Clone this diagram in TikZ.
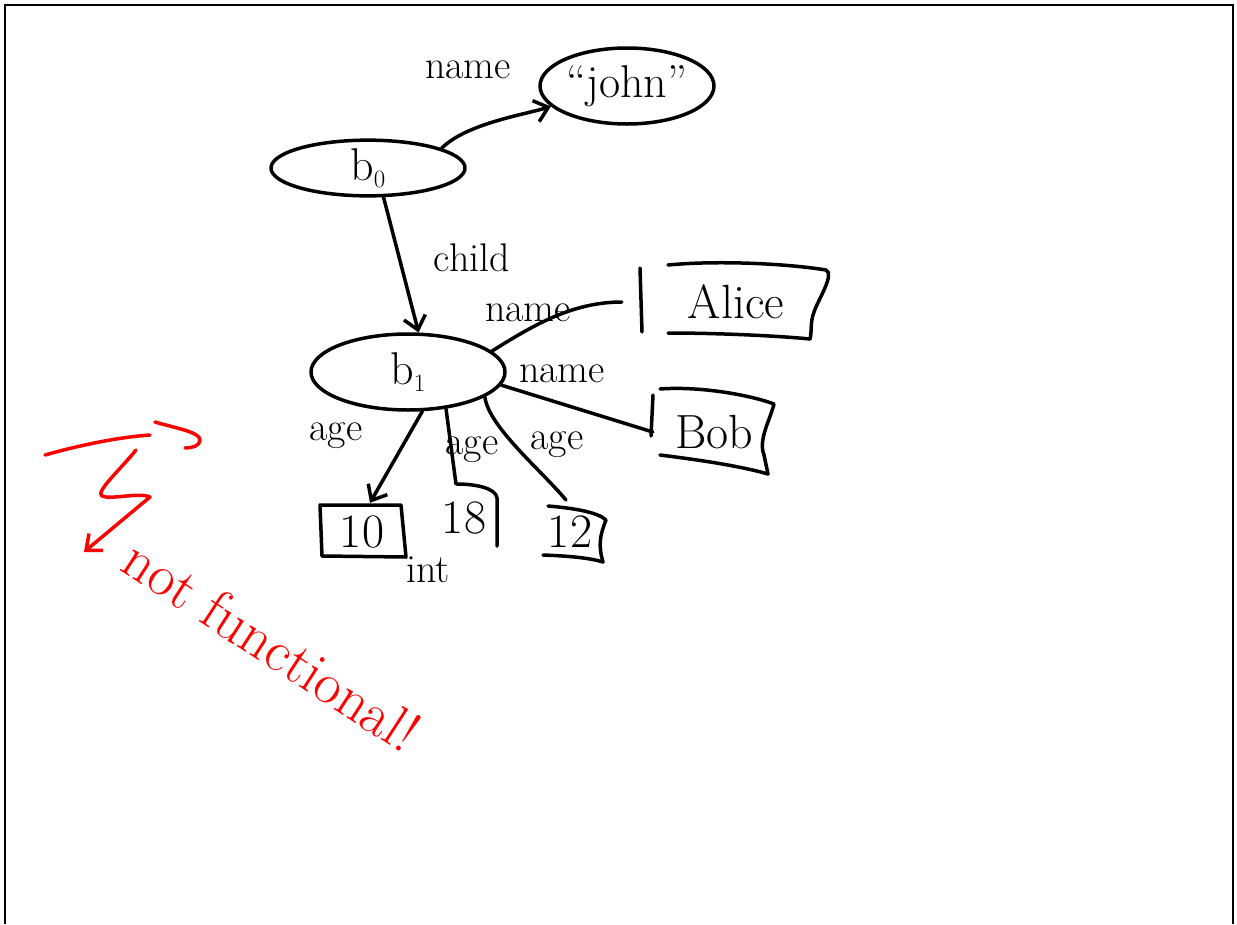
\documentclass[tikz,border=0pt]{standalone}
\usepackage{fontspec}
\usetikzlibrary{shapes.geometric,arrows.meta}
\tikzset{
  ink/.style={line width=3.5pt, line cap=round, line join=round},
  redink/.style={ink, red},
  res/.style={ellipse, draw, ink, inner sep=0pt, font=\fontsize{46}{52}\selectfont},
  lit/.style={rectangle, inner sep=0pt, font=\fontsize{48}{54}\selectfont},
  lbl/.style={font=\fontsize{40}{46}\selectfont, inner sep=1pt},
  tip/.style={-{Straight Barb[length=13pt, width=22pt, line width=3.5pt]}},
  edge/.style={ink, tip},
  plain/.style={ink},
}
\begin{document}
\begin{tikzpicture}[x=1pt, y=-1pt]
  \useasboundingbox (0,0) rectangle (1237,924);
  \fill[white] (0,0) rectangle (1237,924);
  % page frame
  \draw[line width=2pt] (5,924) -- (5,5) -- (1233,5) -- (1233,924);

  % resources
  \node[res, minimum width=194pt, minimum height=50pt] (b0) at (368,168) {b$_0$};
  \node[res, minimum width=174pt, minimum height=76pt] (john) at (627,86) {``john''};
  \node[res, minimum width=194pt, minimum height=76pt] (b1) at (408,372) {b$_1$};

  % literals (outlines drawn by hand below)
  \node[lit, minimum width=188pt, minimum height=72pt] (alice) at (736,302) {Alice};
  \node[lit, minimum width=122pt, minimum height=76pt] (bob) at (714,432) {Bob};
  \node[lit, minimum width=85pt, minimum height=58pt] (ten) at (362,532) {10};
  \node[lit] (eighteen) at (464,518) {18};
  \node[lit] (twelve) at (570,532) {12};

  % literal outlines
  \draw[ink] (668,265) .. controls (720,260) and (790,264) .. (826,270)
             .. controls (835,274) and (818,300) .. (814,312)
             .. controls (810,322) and (812,332) .. (810,339);
  \draw[ink] (668,333) .. controls (720,333) and (780,336) .. (810,339);
  \draw[ink] (640,268) -- (642,332);

  \draw[ink] (660,389) .. controls (700,386) and (750,395) .. (774,404)
             .. controls (770,420) and (758,440) .. (764,455) -- (768,474);
  \draw[ink] (660,455) .. controls (700,460) and (740,466) .. (768,474);
  \draw[ink] (653,395) -- (651,436);

  \draw[ink] (320,505) -- (401,505) -- (406,557) -- (322,556) -- cycle;

  \draw[ink] (457,484) .. controls (475,484) and (496,488) .. (497,498) -- (497,546);

  \draw[ink] (548,506) .. controls (572,508) and (598,512) .. (606,520)
             .. controls (600,535) and (598,545) .. (603,562);
  \draw[ink] (543,555) .. controls (570,556) and (590,558) .. (603,562);

  % properties
  \draw[edge] (b0.15) .. controls +(25,-25) and +(-25,8) .. (john.195);
  \node[lbl] (lname0) at (468,70) {name};

  \draw[edge] (b0.-62) -- (b1.75);
  \node[lbl] (lchild) at (472,258) {child};

  \draw[plain] (b1.14) .. controls +(40,-25) and +(-50,0) .. ([xshift=-20pt]alice.west);
  \node[lbl] (lname1) at (528,313) {name};

  \draw[plain] (b1.-8) -- (bob.west);
  \node[lbl] (lname2) at (562,374) {name};

  \draw[edge] (b1.-70) -- ([xshift=8pt]ten.north);
  \node[lbl] (lage1) at (336,436) {age};

  \draw[plain] (b1.-44) -- (456,484);
  \node[lbl] (lage2) at (472,450) {age};

  \draw[plain] (b1.-18) .. controls +(4,30) and +(-25,-30) .. (566,500);
  \node[lbl] (lage3) at (557,445) {age};

  \node[lbl] (lint) at (428,570) {int};

  % red annotation
  \draw[redink] (45,455) .. controls (80,445) and (120,437) .. (150,435);
  \draw[redink] (155,422) .. controls (175,428) and (200,432) .. (200,440)
                .. controls (200,446) and (192,448) .. (185,448);
  \draw[redink, tip]
    (136,450) .. controls (120,470) and (95,492) .. (102,496)
    .. controls (110,500) and (140,492) .. (150,497) -- (84,552);
  \node[red, rotate=-33, font=\fontsize{58}{64}\selectfont, inner sep=0pt]
    (note) at (272,645) {not functional!};
\end{tikzpicture}
\end{document}
